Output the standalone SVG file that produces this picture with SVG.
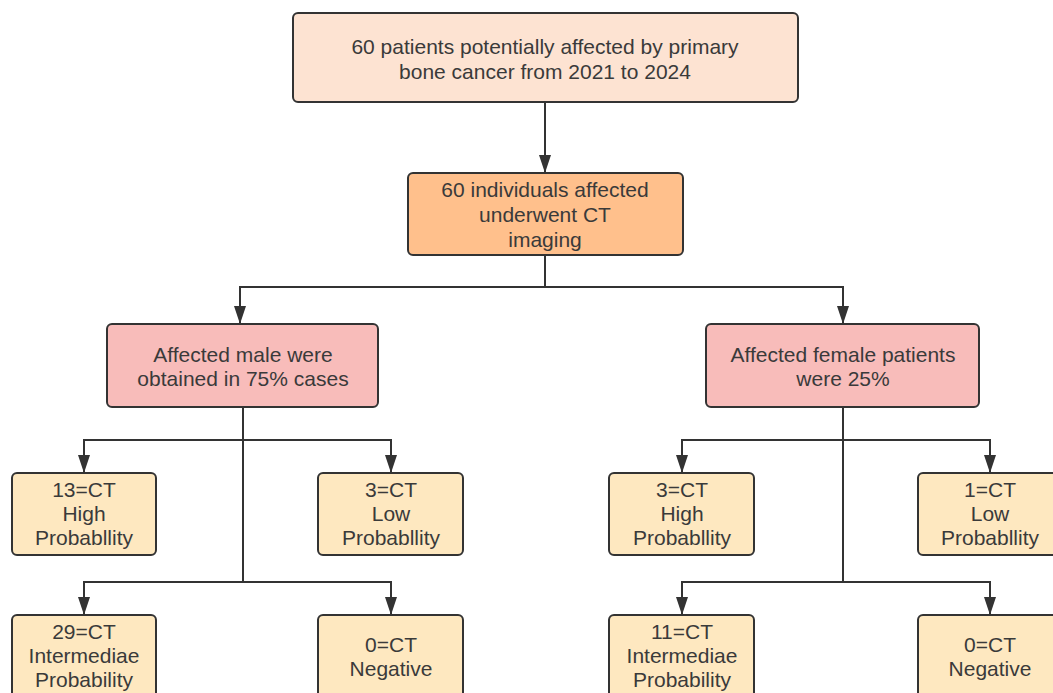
<svg xmlns="http://www.w3.org/2000/svg" width="1053" height="693" viewBox="0 0 1053 693">
<defs>
<marker id="ah" viewBox="0 0 18 12" refX="18" refY="6" markerWidth="18" markerHeight="12" markerUnits="userSpaceOnUse" orient="auto">
<path d="M0,0 L18,6 L0,12 Z" fill="#333333"/>
</marker>
<style>
.box{stroke:#333333;stroke-width:2}
.t{font-family:"Liberation Sans",Arial,sans-serif;font-size:21px;fill:#3a3a3a;text-anchor:middle}
.c{fill:none;stroke:#333333;stroke-width:2}
.top{fill:#FDE3D2}
.mid{fill:#FFC08C}
.sex{fill:#F8BCBA}
.leaf{fill:#FEE8C0}
</style>
</defs>
<rect width="1053" height="693" fill="#ffffff"/>
<g id="connectors">
<path class="c" d="M545,102 V173" marker-end="url(#ah)"/>
<path class="c" d="M545,255 V287 H240 V324" marker-end="url(#ah)"/>
<path class="c" d="M545,287 H843 V324" marker-end="url(#ah)"/>
<path class="c" d="M243,407 V582"/>
<path class="c" d="M243,440 H84 V473" marker-end="url(#ah)"/>
<path class="c" d="M243,440 H391 V473" marker-end="url(#ah)"/>
<path class="c" d="M243,582 H84 V615" marker-end="url(#ah)"/>
<path class="c" d="M243,582 H391 V615" marker-end="url(#ah)"/>
<path class="c" d="M843,407 V582"/>
<path class="c" d="M843,440 H682 V473" marker-end="url(#ah)"/>
<path class="c" d="M843,440 H990 V473" marker-end="url(#ah)"/>
<path class="c" d="M843,582 H682 V615" marker-end="url(#ah)"/>
<path class="c" d="M843,582 H990 V615" marker-end="url(#ah)"/>
</g>
<g id="n-top">
<rect class="box top" x="293" y="13" width="505" height="89" rx="5"/>
<text class="t" x="545" y="54">60 patients potentially affected by primary</text>
<text class="t" x="545" y="79">bone cancer from 2021 to 2024</text>
</g>
<g id="n-ct">
<rect class="box mid" x="408" y="173" width="275" height="82" rx="5"/>
<text class="t" x="545" y="197">60 individuals affected</text>
<text class="t" x="545" y="222">underwent CT</text>
<text class="t" x="545" y="247">imaging</text>
</g>
<g id="n-male">
<rect class="box sex" x="107" y="324" width="271" height="83" rx="5"/>
<text class="t" x="243" y="362">Affected male were</text>
<text class="t" x="243" y="386">obtained in 75% cases</text>
</g>
<g id="n-female">
<rect class="box sex" x="706" y="324" width="273" height="83" rx="5"/>
<text class="t" x="843" y="362">Affected female patients</text>
<text class="t" x="843" y="386">were 25%</text>
</g>
<g id="n-m-high">
<rect class="box leaf" x="12" y="473" width="144" height="82" rx="5"/>
<text class="t" x="84" y="497">13=CT</text>
<text class="t" x="84" y="521">High</text>
<text class="t" x="84" y="545">Probabllity</text>
</g>
<g id="n-m-low">
<rect class="box leaf" x="318" y="473" width="145" height="82" rx="5"/>
<text class="t" x="391" y="497">3=CT</text>
<text class="t" x="391" y="521">Low</text>
<text class="t" x="391" y="545">Probabllity</text>
</g>
<g id="n-m-int">
<rect class="box leaf" x="12" y="615" width="144" height="85" rx="5"/>
<text class="t" x="84" y="639">29=CT</text>
<text class="t" x="84" y="663">Intermediae</text>
<text class="t" x="84" y="687">Probability</text>
</g>
<g id="n-m-neg">
<rect class="box leaf" x="318" y="615" width="145" height="85" rx="5"/>
<text class="t" x="391" y="652">0=CT</text>
<text class="t" x="391" y="676">Negative</text>
</g>
<g id="n-f-high">
<rect class="box leaf" x="609" y="473" width="145" height="82" rx="5"/>
<text class="t" x="682" y="497">3=CT</text>
<text class="t" x="682" y="521">High</text>
<text class="t" x="682" y="545">Probabllity</text>
</g>
<g id="n-f-low">
<rect class="box leaf" x="918" y="473" width="145" height="82" rx="5"/>
<text class="t" x="990" y="497">1=CT</text>
<text class="t" x="990" y="521">Low</text>
<text class="t" x="990" y="545">Probabllity</text>
</g>
<g id="n-f-int">
<rect class="box leaf" x="609" y="615" width="145" height="85" rx="5"/>
<text class="t" x="682" y="639">11=CT</text>
<text class="t" x="682" y="663">Intermediae</text>
<text class="t" x="682" y="687">Probability</text>
</g>
<g id="n-f-neg">
<rect class="box leaf" x="918" y="615" width="145" height="85" rx="5"/>
<text class="t" x="990" y="652">0=CT</text>
<text class="t" x="990" y="676">Negative</text>
</g>
</svg>
